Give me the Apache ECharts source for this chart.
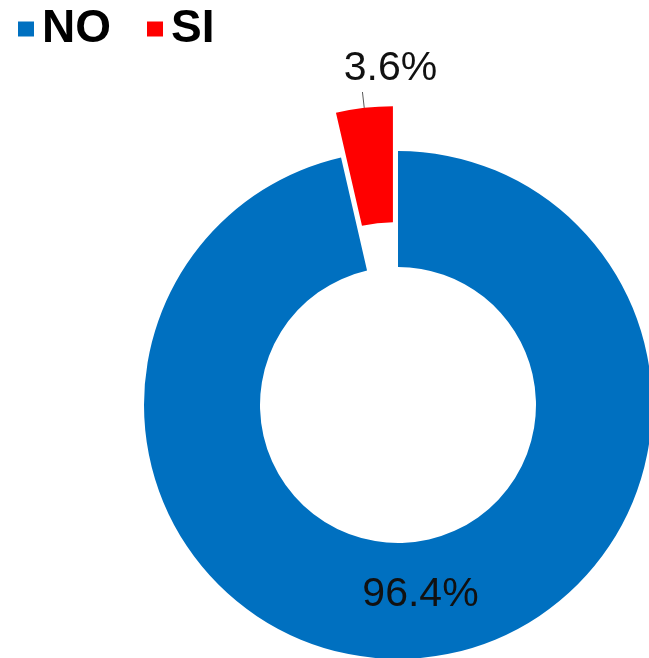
<!DOCTYPE html>
<html>
<head>
<meta charset="utf-8">
<script src="https://cdn.jsdelivr.net/npm/echarts@6/dist/echarts.min.js"></script>
<style>
    html, body { margin: 0; padding: 0; background: #fff; }
    #donutChart { width: 649px; height: 658px; }
</style>
</head>
<body>
<div id="donutChart"></div>
<script>
// categories and values
var categories = ["NO", "SI"];
var values = [96.4, 3.6];
var colors = ["#0070C0", "#FF0000"];

var chartDom = document.getElementById("donutChart");
var mychart = echarts.init(chartDom);

var pieData = categories.map(function (name, i) {
    var item = {
        name: name,
        value: values[i],
        itemStyle: { color: colors[i] }
    };
    if (i === 1) {
        // the small slice is pulled out, label sits above it
        item.selected = true;
        item.label = { position: "outside" };
        item.labelLine = { show: true, length: 16, length2: 0, lineStyle: { color: "#595959", width: 1 } };
    } else {
        item.label = { position: "inside" };
        item.labelLine = { show: false };
    }
    return item;
});

var option = {
    animation: false,
    textStyle: { fontFamily: "Liberation Sans, Arial, sans-serif" },
    legend: {
        left: 13,
        top: 1,
        icon: "rect",
        itemWidth: 16,
        itemHeight: 15,
        itemGap: 36,
        textStyle: {
            fontSize: 46,
            fontWeight: "bold",
            color: "#000",
            padding: [0, 0, 0, 3]
        },
        data: categories
    },
    series: [
        {
            type: "pie",
            center: [398, 405],
            radius: [138, 254],
            startAngle: 90,
            clockwise: true,
            selectedMode: "single",
            selectedOffset: 45,
            emphasis: { disabled: true },
            label: {
                show: true,
                fontSize: 41,
                color: "#111",
                formatter: function (p) {
                    return p.value.toFixed(1) + "%";
                }
            },
            labelLayout: function (params) {
                if (params.dataIndex === 1) {
                    return { align: "center", verticalAlign: "bottom", dx: 33, dy: -3 };
                }
                return { dy: -8 };
            },
            data: pieData
        }
    ]
};

option && mychart.setOption(option);
</script>
</body>
</html>
